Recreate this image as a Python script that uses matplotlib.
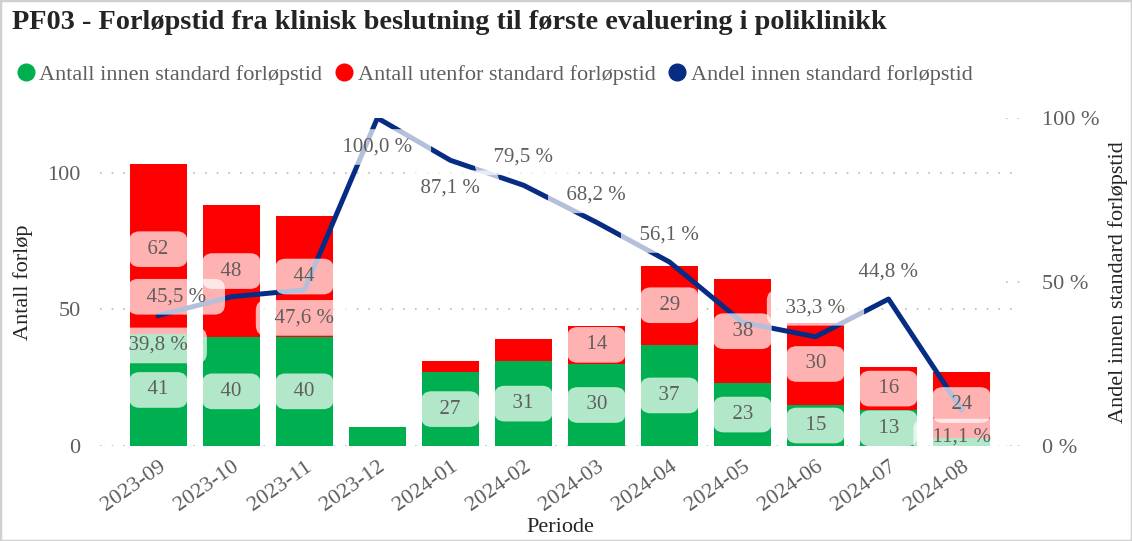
import matplotlib.pyplot as plt
from matplotlib.lines import Line2D
from matplotlib.patches import Rectangle
from matplotlib.ticker import FuncFormatter
import numpy as np

plt.rcParams["font.family"] = ["Liberation Serif", "DejaVu Serif"]

periods = ["2023-09", "2023-10", "2023-11", "2023-12", "2024-01", "2024-02",
           "2024-03", "2024-04", "2024-05", "2024-06", "2024-07", "2024-08"]
inside = [41, 40, 40, 7, 27, 31, 30, 37, 23, 15, 13, 3]
outside = [62, 48, 44, 0, 4, 8, 14, 29, 38, 30, 16, 24]
share = [0.398, 0.455, 0.476, 1.0, 0.871, 0.795, 0.682, 0.561, 0.377, 0.333, 0.448, 0.111]

GREEN = "#00B050"
RED = "#FF0000"
NAVY = "#062C84"
TXT = "#605E5C"
DARK = "#252423"

# label placement for the share line, in pixels (None = label hidden)
share_offsets = [(0, -30), (-55, 0), (0, -28), (0, -29), (0, -28), (0, 28),
                 (0, 27), (0, 27), None, (0, 29), (0, 27), (0, -27)]

fig = plt.figure(figsize=(11.32, 5.41), dpi=100)
fig.patches.append(Rectangle((0, 0), 1, 1, transform=fig.transFigure,
                             fill=False, edgecolor="#D0D0D0", linewidth=2.5))
ax = fig.add_axes([0.0883, 0.1756, 0.8127, 0.6063])
ax2 = ax.twinx()

x = np.arange(len(periods))
ax.bar(x, inside, width=0.78, color=GREEN, zorder=2)
ax.bar(x, outside, width=0.78, bottom=inside, color=RED, zorder=2)

ax.set_xlim(-0.8, len(periods) - 0.2)
ax.set_ylim(0, 120)
ax.set_yticks([0, 50, 100])
ax.grid(axis="y", linestyle=(0, (1, 6)), color="#BBBBBB", linewidth=1.2, zorder=0)
ax.set_axisbelow(True)

ax2.plot(x, share, color=NAVY, linewidth=3.6, solid_joinstyle="round", zorder=3)
ax2.set_ylim(0, 1.0)
ax2.set_yticks([0, 0.5, 1.0])
ax2.yaxis.set_major_formatter(FuncFormatter(lambda v, _: f"{v * 100:.0f} %"))
for v in [0, 0.5, 1.0]:
    ax2.axhline(v, xmin=0.985, xmax=1.0, linestyle=(0, (1, 6)),
                color="#BBBBBB", linewidth=1.2)

for a in (ax, ax2):
    for s in a.spines.values():
        s.set_visible(False)
    a.tick_params(length=0, labelsize=16, labelcolor=TXT)

ax.tick_params(axis="y", pad=14)
ax2.tick_params(axis="y", pad=16)
ax.set_xticks(x)
ax.set_xticklabels(periods, rotation=35, ha="right", rotation_mode="anchor")
ax.tick_params(axis="x", pad=8)

ax.set_xlabel("Periode", fontsize=16, color=DARK, labelpad=2)
ax.set_ylabel("Antall forløp", fontsize=16, color=DARK, labelpad=10)
ax2.set_ylabel("Andel innen standard forløpstid", fontsize=16, color=DARK,
               labelpad=6)

box = dict(boxstyle="round,pad=0.4,rounding_size=0.5", facecolor="white",
           edgecolor="none", alpha=0.7)

# bar value labels, drawn over the line
for i in range(len(periods)):
    for lo, val in ((0, inside[i]), (inside[i], outside[i])):
        if val < 10:
            continue
        ax2.text(x[i], lo + val / 2, f"  {val}  ", transform=ax.transData,
                 ha="center", va="center", fontsize=15, color=TXT, bbox=box,
                 zorder=5)

for i, v in enumerate(share):
    if share_offsets[i] is None:
        continue
    dx, dy = share_offsets[i]
    ax2.annotate(f"  {v * 100:.1f} %  ".replace(".", ","), (x[i], v),
                 xytext=(dx, dy), textcoords="offset pixels", ha="center",
                 va="center", fontsize=15, color=TXT, bbox=box, zorder=5)

fig.text(0.0106, 0.958, "PF03 - Forløpstid fra klinisk beslutning til første evaluering i poliklinikk",
         fontsize=20.3, fontweight="bold", color=DARK, va="center")

handles = [Line2D([], [], marker="o", linestyle="none", markersize=12, color=c)
           for c in (GREEN, RED, NAVY)]
fig.legend(handles, ["Antall innen standard forløpstid",
                     "Antall utenfor standard forløpstid",
                     "Andel innen standard forløpstid"],
           loc="center left", bbox_to_anchor=(0.003, 0.862), ncol=3,
           frameon=False, fontsize=16, labelcolor=TXT, handletextpad=0.1,
           columnspacing=0.5, handlelength=1.0, borderpad=0)

fig.savefig("out.png", dpi=100)
